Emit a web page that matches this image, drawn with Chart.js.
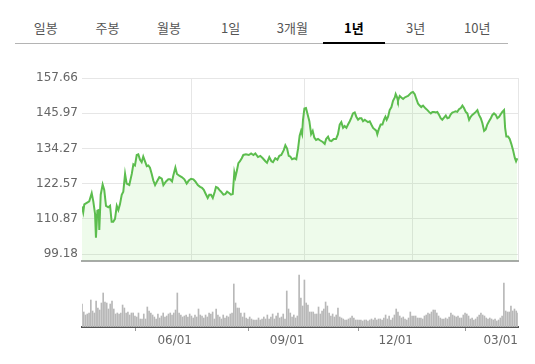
<!DOCTYPE html>
<html lang="ko">
<head>
<meta charset="utf-8">
<script src="https://cdn.jsdelivr.net/npm/chart.js@4.4.1/dist/chart.umd.min.js"></script>
<style>
    body { margin: 0; background: #fff; width: 535px; height: 364px; position: relative; overflow: hidden; font-family: "Noto Sans CJK KR", sans-serif; }
    #tabs { position: absolute; left: 15px; top: 14px; width: 493px; height: 29px; border-bottom: 1px solid #b4b4b4; display: flex; }
    #tabs div { flex: 1; text-align: center; font-size: 13px; color: #555; line-height: 28px; position: relative; }
    #tabs div.on { color: #000; font-weight: bold; }
    #tabs div.on::after { content: ''; position: absolute; left: 0; right: 0; bottom: -1px; height: 2px; background: #000; }
    #price { position: absolute; left: 0; top: 60px; }
    #volume { position: absolute; left: 0; top: 272px; }
</style>
</head>
<body>
<div id="tabs"></div>
<canvas id="price" width="535" height="212"></canvas>
<canvas id="volume" width="535" height="92"></canvas>
<script>
const tabNames = ['일봉', '주봉', '월봉', '1일', '3개월', '1년', '3년', '10년'];
const activeTab = '1년';

// trading-session position of each close (0 = first session of the year shown)
const days = [
    0, 0.7, 1.3, 2.7, 4.1, 5.5, 6.4, 7.4, 7.9, 8.7, 9.5, 9.8, 10.6, 11.7, 12.6, 13.6, 14.9, 15.9, 16.8, 17.7,
    18.7, 19.7, 20.6, 21.5, 22.5, 23.4, 24.4, 25.3, 26.8, 28.2, 29.1, 30.0, 31.0, 31.9, 32.9, 33.8, 34.7, 35.7, 36.7, 37.6,
    38.5, 39.5, 40.4, 41.4, 42.3, 43.8, 45.2, 46.1, 47.6, 48.9, 49.9,
    51.0, 51.7, 52.9, 53.8, 55.1, 56.7, 58.0, 59.3, 60.5, 61.8, 63.1, 64.2, 65.6, 66.9, 68.0, 69.0, 69.9, 71.2, 72.1, 73.1,
    74.1, 75.2, 75.9, 76.9, 77.8, 78.8, 80.1, 81.2, 82.2, 83.5, 84.4, 85.4, 86.3, 86.9, 87.7, 88.6, 89.5, 90.5, 91.4, 92.9,
    94.5, 95.8, 97.1, 98.2,
    99.7, 101.0, 102.4, 103.9, 104.8, 106.1, 107.3, 108.2, 109.5, 110.7, 111.8, 112.9, 114.3, 115.2, 116.2, 117.1, 118.0, 119.0, 120.3, 121.4,
    122.4, 123.3, 124.1, 124.7, 125.2, 126.0, 126.9, 127.9, 128.8, 129.8, 130.7, 131.6, 132.6, 133.7, 135.0, 136.4, 137.5, 138.3, 139.4, 140.3,
    141.3, 142.6, 143.9, 145.0, 146.0, 146.9,
    147.9, 148.8, 149.8, 150.7, 151.7, 152.6, 153.5, 154.5, 155.4, 156.4, 157.3, 158.3, 159.2, 160.2, 161.1, 162.0, 163.0, 163.9, 164.9, 165.8,
    166.8, 167.3, 168.1, 169.2, 170.2, 171.1, 171.9, 172.6, 173.4, 174.3, 175.3, 176.2, 177.2, 177.7, 178.5, 179.0, 180.0, 180.9, 181.9, 182.8,
    183.8, 184.7, 185.7, 186.6, 187.5, 188.5, 189.4, 190.4, 191.3, 192.2, 193.2,
    194.7, 195.7, 196.6, 197.6, 198.5, 199.4, 200.4, 201.3, 202.3, 203.2, 204.1, 205.1, 206.1, 207.0, 207.9, 208.9, 209.8, 210.8, 211.7, 212.6,
    213.6, 214.6, 215.5, 216.4, 217.4, 218.3, 219.3, 220.2, 221.1, 222.1, 223.1, 224.0, 224.9, 225.9, 226.8, 227.8, 228.7, 229.6, 230.6, 231.6,
    232.5, 233.4, 234.4, 235.3, 236.3, 237.2, 238.1, 239.1, 239.7, 240.4, 241.4, 242.3, 243.2, 244.2, 245.2, 245.9, 246.6
];

const closes = [
    115.0, 113.1, 115.7, 116.2, 116.7, 119.4, 116.7, 112.5, 104.6, 113.6, 113.8, 107.2, 118.9, 122.3, 120.5, 115.2, 114.7, 115.2, 109.9, 109.9,
    110.9, 115.2, 113.8, 115.7, 118.9, 119.9, 125.8, 122.6, 122.1, 125.8, 129.0, 128.6, 132.1, 132.3, 130.5, 129.7, 131.6, 130.0, 128.4, 128.6,
    127.9, 125.8, 123.6, 122.1, 123.1, 124.7, 124.2, 122.1, 123.3, 124.0, 124.0,
    123.3, 125.2, 127.9, 125.8, 125.2, 124.7, 124.0, 122.6, 123.6, 124.2, 124.0, 123.3, 122.1, 121.5, 121.2, 120.5, 119.4, 117.8, 118.9, 118.9,
    117.8, 119.9, 121.5, 121.2, 120.5, 119.9, 118.9, 119.1, 119.9, 119.4, 118.9, 119.1, 126.3, 124.7, 126.8, 129.4, 130.0, 131.0, 132.1, 132.3,
    132.1, 132.6, 132.1, 132.6,
    131.4, 131.8, 131.0, 130.0, 129.5, 131.4, 130.0, 129.7, 131.0, 130.5, 131.8, 132.1, 133.7, 135.3, 134.2, 131.8, 131.6, 130.7, 131.0, 130.7,
    134.2, 138.5, 140.1, 139.0, 143.8, 147.5, 147.7, 145.4, 143.3, 139.0, 140.1, 137.9, 137.1, 137.4, 136.9, 136.4, 135.8, 137.4, 138.2, 136.9,
    136.7, 137.4, 137.4, 139.0, 142.2, 143.0,
    141.1, 141.7, 141.1, 142.2, 143.3, 144.5, 145.9, 146.2, 144.8, 143.8, 144.3, 144.3, 143.3, 143.8, 143.4, 143.0, 143.3, 142.2, 141.1, 140.6,
    140.1, 139.0, 140.6, 142.2, 142.2, 143.8, 144.8, 143.8, 144.8, 147.0, 148.0, 150.1, 151.2, 152.3, 151.2, 150.1, 151.7, 151.2, 150.7, 151.2,
    151.5, 151.7, 152.3, 152.8, 153.0, 152.3, 150.7, 149.1, 148.5, 148.0, 148.5,
    147.5, 147.0, 146.4, 145.9, 146.4, 146.4, 146.2, 146.4, 145.4, 144.3, 143.8, 144.5, 145.2, 144.3, 144.5, 145.6, 146.2, 146.4, 146.6, 146.4,
    147.3, 147.7, 148.5, 147.7, 146.4, 145.9, 143.8, 144.8, 145.4, 145.9, 146.4, 147.0, 145.4, 144.3, 142.7, 140.1, 140.6, 142.2, 143.3, 144.3,
    145.4, 145.9, 145.4, 144.3, 144.8, 145.6, 146.4, 147.0, 141.1, 138.2, 138.2, 137.4, 135.8, 133.7, 131.1, 130.0, 131.0
];

// one volume bar per session (만주)
const volumes = [
    23, 15, 12, 13, 14, 27, 16, 14, 26, 19, 17, 24, 34, 25, 24, 18, 23, 26, 18, 13,
    14, 13, 14, 22, 19, 14, 15, 12, 14, 14, 11, 10, 14, 8, 8, 13, 8, 20, 16, 14,
    12, 10, 8, 13, 9, 11, 14, 10, 11, 13, 14, 12, 14, 17, 34, 14, 12, 10, 11, 12,
    10, 13, 11, 9, 12, 10, 18, 12, 11, 9, 12, 10, 14, 13, 15, 8, 18, 12, 10, 8,
    12, 9, 11, 10, 13, 14, 43, 24, 19, 19, 14, 10, 14, 9, 8, 10, 8, 7, 7, 7,
    9, 7, 8, 10, 8, 12, 8, 10, 13, 8, 11, 14, 9, 10, 13, 8, 36, 18, 14, 10,
    12, 9, 11, 52, 29, 21, 47, 24, 22, 15, 15, 15, 13, 13, 20, 13, 16, 18, 25, 21,
    14, 11, 13, 10, 12, 19, 10, 9, 8, 7, 7, 8, 9, 11, 9, 7, 7, 7, 7, 6,
    7, 7, 6, 7, 8, 7, 9, 7, 8, 8, 7, 9, 12, 8, 11, 7, 9, 12, 18, 15,
    11, 9, 10, 8, 7, 9, 15, 11, 11, 11, 9, 9, 9, 8, 11, 12, 14, 13, 15, 17,
    17, 14, 11, 9, 8, 8, 9, 8, 10, 14, 12, 11, 10, 11, 9, 9, 12, 14, 13, 11,
    8, 9, 7, 8, 10, 12, 14, 12, 11, 9, 8, 9, 8, 7, 8, 6, 7, 9, 11, 44,
    16, 15, 15, 21, 16, 18, 16, 14
];

const yTicks = [99.18, 110.87, 122.57, 134.27, 145.97, 157.66];
const yMin = 96.95;
const dateTicks = [62.3, 126.0, 187.5, 247];
const dateLabels = ['06/01', '09/01', '12/01', '03/01'];
const lastDay = 247;
const volMax = 55;

const tabs = document.getElementById('tabs');
tabNames.forEach(name => {
    const d = document.createElement('div');
    d.textContent = name;
    if (name === activeTab) d.className = 'on';
    tabs.appendChild(d);
});

const axisFont = { family: 'DejaVu Sans', size: 12 };

new Chart(document.getElementById('price'), {
    type: 'line',
    data: {
        datasets: [{
            data: days.map((d, i) => ({ x: d, y: closes[i] })),
            borderColor: '#5cbd4e',
            borderWidth: 2,
            backgroundColor: 'rgba(120, 225, 100, 0.13)',
            fill: 'start',
            pointRadius: 0,
            tension: 0
        }]
    },
    options: {
        responsive: false,
        animation: false,
        layout: { padding: { top: 18, right: 17, bottom: 3, left: 0 } },
        plugins: { legend: { display: false }, tooltip: { enabled: false } },
        scales: {
            x: {
                type: 'linear',
                min: 0,
                max: lastDay,
                afterBuildTicks: s => { s.ticks = dateTicks.map(v => ({ value: v })); },
                ticks: { display: false },
                grid: { color: '#e6e6e6', drawTicks: false },
                border: { display: true, color: '#a8aaa8', width: 2 },
                afterFit: s => { s.height = 0; }
            },
            y: {
                min: yMin,
                max: yTicks[yTicks.length - 1],
                afterBuildTicks: s => { s.ticks = yTicks.map(v => ({ value: v })); },
                ticks: { color: '#666', font: axisFont, padding: 4, callback: v => v.toFixed(2) },
                grid: { color: '#e6e6e6', drawTicks: false },
                border: { display: false },
                afterFit: s => { s.width = 82; }
            }
        }
    }
});

new Chart(document.getElementById('volume'), {
    type: 'bar',
    data: {
        datasets: [{
            data: volumes.map((v, i) => ({ x: i, y: v })),
            backgroundColor: '#b8b8b8',
            barThickness: 1
        }]
    },
    options: {
        responsive: false,
        animation: false,
        layout: { padding: { top: 0, right: 17, bottom: 0, left: 82 } },
        plugins: { legend: { display: false }, tooltip: { enabled: false } },
        scales: {
            x: {
                type: 'linear',
                offset: false,
                min: 0,
                max: lastDay,
                afterBuildTicks: s => { s.ticks = dateTicks.map(v => ({ value: v })); },
                ticks: {
                    align: 'end', color: '#666', font: axisFont, padding: 3,
                    maxRotation: 0, autoSkip: false,
                    callback: (v, i) => dateLabels[i]
                },
                grid: { drawOnChartArea: false, drawTicks: true, tickLength: 4, color: '#999' },
                border: { color: '#555', width: 2 },
                afterFit: s => { s.height = 37; }
            },
            y: { display: false, min: 0, max: volMax }
        }
    }
});
</script>
</body>
</html>
